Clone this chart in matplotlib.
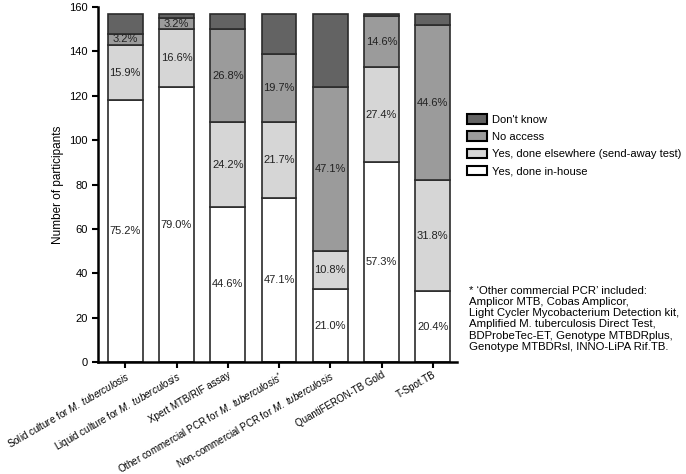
import numpy as np
import matplotlib.pyplot as plt

plt.rcParams['font.family'] = ['Liberation Sans', 'DejaVu Sans']
plt.rcParams['mathtext.fontset'] = 'custom'
plt.rcParams['mathtext.rm'] = 'Liberation Sans'
plt.rcParams['mathtext.it'] = 'Liberation Sans:italic'

tests = [r'Solid culture for $\mathit{M.\ tuberculosis}$',
         r'Liquid culture for $\mathit{M.\ tuberculosis}$',
         'Xpert MTB/RIF assay',
         r'Other commercial PCR for $\mathit{M.\ tuberculosis}^{*}$',
         r'Non-commercial PCR for $\mathit{M.\ tuberculosis}$',
         'QuantiFERON-TB Gold',
         'T-Spot.TB']

in_house = [118, 124, 70, 74, 33, 90, 32]
elsewhere = [25, 26, 38, 34, 17, 43, 50]
no_access = [5, 5, 42, 31, 74, 23, 70]
dont_know = [9, 2, 7, 18, 33, 1, 5]

pct_in_house = ['75.2%', '79.0%', '44.6%', '47.1%', '21.0%', '57.3%', '20.4%']
pct_elsewhere = ['15.9%', '16.6%', '24.2%', '21.7%', '10.8%', '27.4%', '31.8%']
pct_no_access = ['3.2%', '3.2%', '26.8%', '19.7%', '47.1%', '14.6%', '44.6%']

series = [('Yes, done in-house', in_house, '#ffffff', pct_in_house),
          ('Yes, done elsewhere (send-away test)', elsewhere, '#d6d6d6', pct_elsewhere),
          ('No access', no_access, '#9b9b9b', pct_no_access),
          ("Don't know", dont_know, '#636363', None)]

footnote = ("* \u2018Other commercial PCR\u2019 included:\n"
            "Amplicor MTB, Cobas Amplicor,\n"
            "Light Cycler Mycobacterium Detection kit,\n"
            "Amplified M. tuberculosis Direct Test,\n"
            "BDProbeTec-ET, Genotype MTBDRplus,\n"
            "Genotype MTBDRsl, INNO-LiPA Rif.TB.")

fig = plt.figure(figsize=(6.86, 4.74), dpi=100)
ax = fig.add_axes([0.143, 0.236, 0.523, 0.749])

x = np.arange(len(tests))
bottom = np.zeros(len(tests))
handles = []
for name, vals, col, pcts in series:
    vals = np.array(vals, dtype=float)
    b = ax.bar(x, vals, 0.675, bottom=bottom, color=col, edgecolor='#2b2b2b',
               linewidth=1.2, label=name)
    handles.append(b)
    if pcts is not None:
        for xi, b0, v, p in zip(x, bottom, vals, pcts):
            ax.text(xi, b0 + v / 2, p, ha='center', va='center', fontsize=8,
                    color='#222222')
    bottom += vals

ax.set_xlim(-0.53, 6.47)
ax.set_ylim(0, 160)
ax.set_yticks(np.arange(0, 161, 20))
ax.set_xticks(x)
ax.set_xticklabels(tests, rotation=30, ha='right', va='top', rotation_mode='anchor',
                   fontsize=7)
ax.tick_params(axis='y', labelsize=8, width=1.5, length=4)
ax.tick_params(axis='x', width=1.5, length=4, pad=1.5)
ax.set_ylabel('Number of participants', fontsize=8.5)
ax.spines['top'].set_visible(False)
ax.spines['right'].set_visible(False)
ax.spines['left'].set_linewidth(1.8)
ax.spines['bottom'].set_linewidth(1.8)

leg = fig.legend(handles[::-1], [s[0] for s in series][::-1], loc='upper left',
                 bbox_to_anchor=(0.666, 0.78), frameon=False, fontsize=8,
                 handlelength=1.8, handleheight=0.9, labelspacing=0.6, handletextpad=0.5)
for p in leg.get_patches():
    p.set_edgecolor('black')
    p.set_linewidth(1.5)

fig.text(0.684, 0.397, footnote, ha='left', va='top', fontsize=8.2, linespacing=1.15)

fig.savefig('out.png', dpi=100)
